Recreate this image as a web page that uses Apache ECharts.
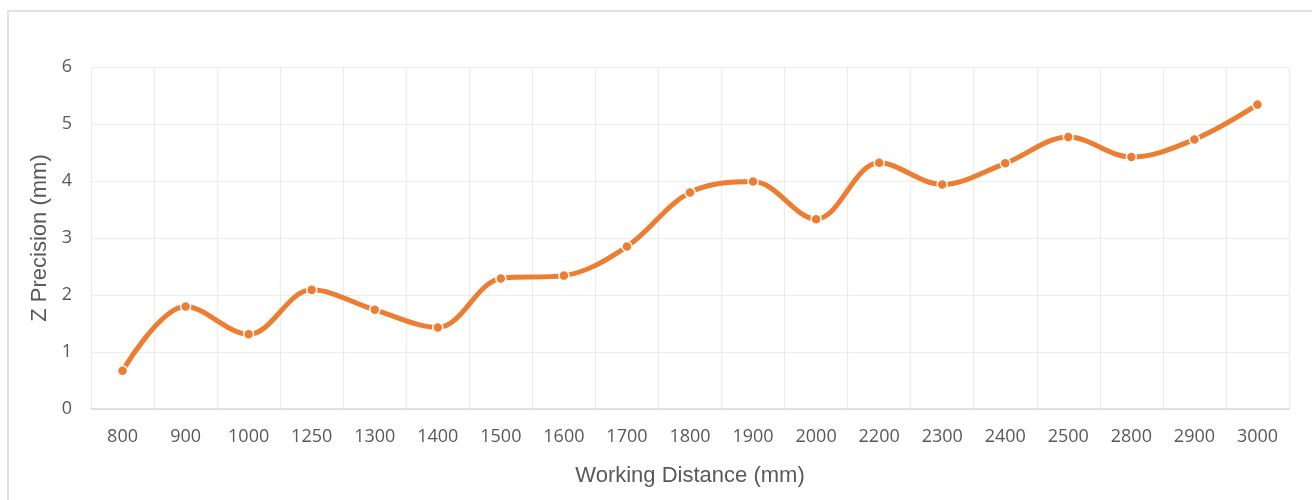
<!DOCTYPE html>
<html>
<head>
<meta charset="utf-8">
<script src="https://cdn.jsdelivr.net/npm/echarts@6/dist/echarts.min.js"></script>
<style>
  html, body { margin: 0; padding: 0; background: #fff; }
  #chart { width: 1312px; height: 500px; }
</style>
</head>
<body>
<div id="chart"></div>
<script>
// working distance categories (mm)
var distances = ['800', '900', '1000', '1250', '1300', '1400', '1500', '1600', '1700', '1800',
  '1900', '2000', '2200', '2300', '2400', '2500', '2800', '2900', '3000']
// z precision (mm)
var precision = [0.67, 1.80, 1.31, 2.09, 1.74, 1.43, 2.29, 2.34, 2.85, 3.80,
  3.99, 3.33, 4.32, 3.94, 4.31, 4.77, 4.42, 4.73, 5.34]

var chart = echarts.init(document.getElementById('chart'))
chart.setOption({
  backgroundColor: '#fff',
  animation: false,
  graphic: [{
    type: 'rect',
    shape: { x: 8, y: 11, width: 1400, height: 600 },
    style: { fill: 'none', stroke: '#d9d9d9', lineWidth: 1.5 },
    silent: true
  }],
  grid: { left: 91, right: 23, top: 67, bottom: 91 },
  xAxis: {
    type: 'category',
    data: distances,
    name: 'Working Distance (mm)',
    nameLocation: 'middle',
    nameGap: 56,
    nameTextStyle: { fontFamily: 'Liberation Sans', fontSize: 22, color: '#595959' },
    axisLine: { lineStyle: { color: '#d9d9d9', width: 1.5 } },
    axisTick: { show: false },
    axisLabel: { fontFamily: 'Open Sans', fontSize: 18, color: '#595959', margin: 19 },
    splitLine: { show: true, lineStyle: { color: '#ececec', width: 1.2 } }
  },
  yAxis: {
    type: 'value',
    min: 0,
    max: 6,
    interval: 1,
    name: 'Z Precision (mm)',
    nameLocation: 'middle',
    nameGap: 40,
    nameTextStyle: { fontFamily: 'Liberation Sans', fontSize: 22, color: '#595959' },
    axisLine: { show: false },
    axisTick: { show: false },
    axisLabel: { fontFamily: 'Open Sans', fontSize: 18, color: '#595959', margin: 19 },
    splitLine: { lineStyle: { color: '#ececec', width: 1.2 } }
  },
  series: [{
    type: 'line',
    data: precision,
    smooth: 0.35,
    symbol: 'circle',
    symbolSize: 10,
    lineStyle: { color: '#ED7D31', width: 5 },
    itemStyle: { color: '#ED7D31', borderColor: '#fff', borderWidth: 1.5 }
  }]
})
</script>
</body>
</html>
